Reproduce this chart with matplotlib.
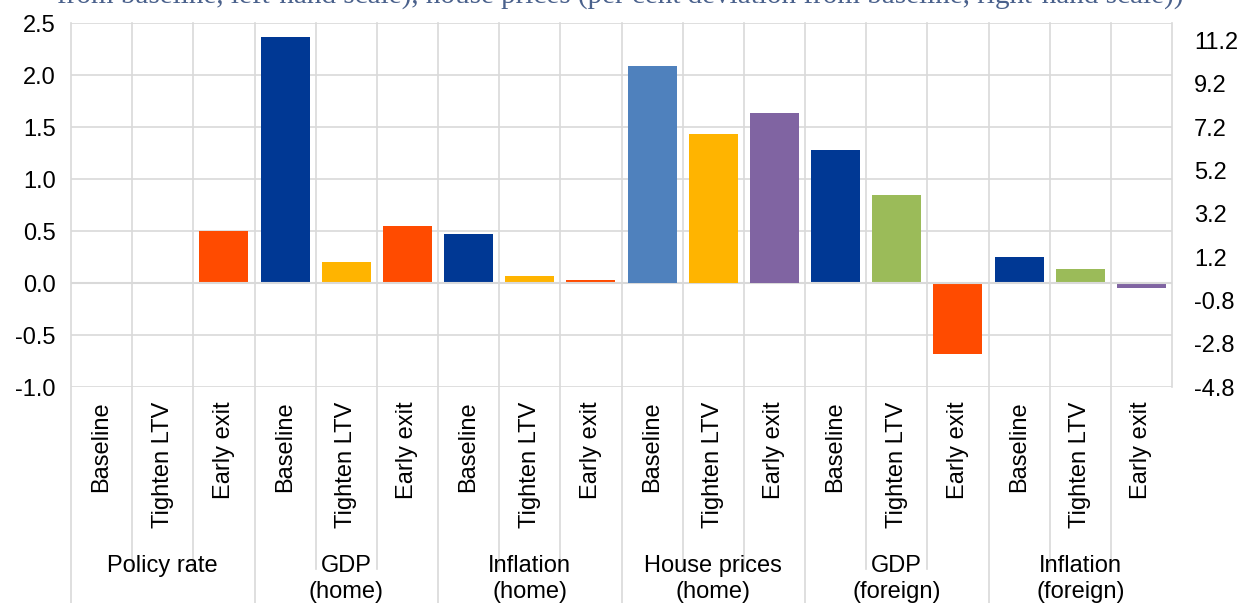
import numpy as np
import matplotlib
matplotlib.use('Agg')
import matplotlib.pyplot as plt

plt.rcParams['font.family'] = ['Liberation Sans', 'DejaVu Sans']

### data
groups = ['Policy rate', 'GDP\n(home)', 'Inflation\n(home)', 'House prices\n(home)',
          'GDP\n(foreign)', 'Inflation\n(foreign)']
scenarios = ['Baseline', 'Tighten LTV', 'Early exit']
# per cent deviation from baseline (left-hand scale)
policy_rate = [0.0, 0.0, 0.50]
gdp_home = [2.37, 0.20, 0.55]
infl_home = [0.47, 0.07, 0.03]
gdp_foreign = [1.28, 0.85, -0.68]
infl_foreign = [0.25, 0.13, -0.05]
# house prices (right-hand scale)
house_prices = [10.0, 6.87, 7.83]

col_dark = '#003894'
col_yellow = '#FFB400'
col_red = '#FF4B00'
col_lblue = '#4F81BD'
col_purple = '#8064A2'
col_green = '#9BBB59'

left_series = [policy_rate, gdp_home, infl_home, None, gdp_foreign, infl_foreign]
left_colors = [[col_dark, col_yellow, col_red],
               [col_dark, col_yellow, col_red],
               [col_dark, col_yellow, col_red],
               None,
               [col_dark, col_green, col_red],
               [col_dark, col_green, col_purple]]
house_colors = [col_lblue, col_yellow, col_purple]

### figure
fig = plt.figure(figsize=(12.4, 6.03), dpi=100)
W, H = 1240, 603
x0, x1, ytop, ybot = 71, 1172, 23, 387
ax = fig.add_axes([x0 / W, 1 - ybot / H, (x1 - x0) / W, (ybot - ytop) / H])
ax2 = ax.twinx()

bw = 0.8
for g, vals in enumerate(left_series):
    if vals is None:
        continue
    xs = np.arange(3) + 3 * g
    ax.bar(xs, vals, width=bw, color=left_colors[g], zorder=3)
xs = np.arange(3) + 9
ax2.bar(xs, house_prices, width=bw, color=house_colors, zorder=3)

n = 3 * len(groups)
ax.set_xlim(-0.5, n - 0.5)
ax.set_ylim(-1.0, 2.5)
lt = np.arange(-1.0, 2.51, 0.5)
ax.set_yticks(lt)
ax.set_yticklabels(['%.1f' % v for v in lt])
ax2.set_ylim(-4.8, 12.0)
rt = np.arange(-4.8, 11.3, 2.0)
ax2.set_yticks(rt)
ax2.set_yticklabels(['%.1f' % v for v in rt])

for a in (ax, ax2):
    for s in a.spines.values():
        s.set_visible(False)
    a.tick_params(length=0, labelsize=17, colors='black')
ax.tick_params(axis='y', pad=11)
ax2.tick_params(axis='y', pad=16)
ax.set_xticks([])

# horizontal gridlines
for v in lt:
    ax.axhline(v, color='#d9d9d9', lw=1.2, zorder=1)
ax.axhline(0, color='#d9d9d9', lw=1.5, zorder=4)

# vertical lines, inside plot and below it
trans = ax.get_xaxis_transform()
for i in range(n + 1):
    xb = i - 0.5
    low = -0.6 if i % 3 == 0 else -0.5
    if i == n:
        low = 0
    ax.plot([xb, xb], [1, low], color='#d9d9d9', lw=1.2, transform=trans,
            clip_on=False, zorder=1)

# category labels
for i in range(n):
    ax.text(i, -0.04, scenarios[i % 3], rotation=90, ha='center', va='top',
            fontsize=17, transform=trans)
for g, name in enumerate(groups):
    ax.text(3 * g + 1, -0.462, name, ha='center', va='top', fontsize=17,
            linespacing=1.2, transform=trans)

# cut-off title line
fig.text(0.5, 1 - 4 / H, 'from baseline, left-hand scale), house prices (per cent deviation from baseline, right-hand scale))',
         ha='center', va='baseline', fontsize=21, family='Liberation Serif', color='#4A618C')

fig.savefig('out.png', dpi=100)
